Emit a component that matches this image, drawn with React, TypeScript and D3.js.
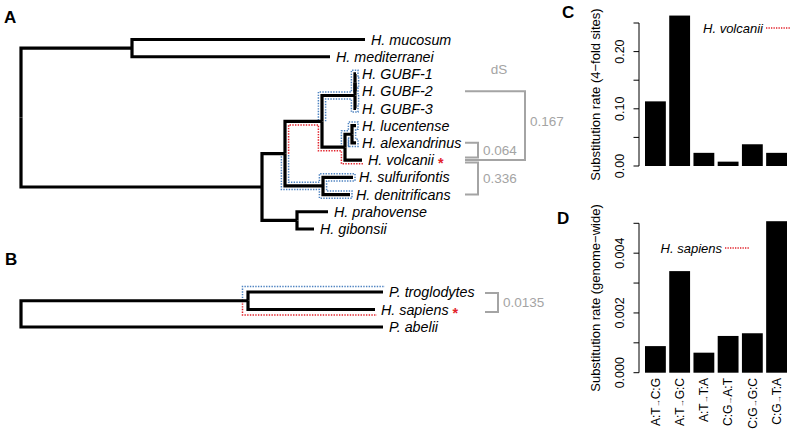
import React from "react";
import * as d3 from "d3";

// ---------- data ----------
// phylogeny A: [node, parent, branch length (relative units)]
const treeA: [string, string, number][] = [
  ["root", "", 0],
  ["M", "root", 111],
  ["H. mucosum", "M", 233],
  ["H. mediterranei", "M", 198],
  ["H", "root", 241],
  ["U", "H", 23],
  ["V", "U", 37],
  ["G", "V", 33],
  ["G2", "G", 0],
  ["H. GUBF-1", "G2", 1],
  ["H. GUBF-2", "G2", 1],
  ["H. GUBF-3", "G", 1],
  ["W", "V", 23],
  ["LA", "W", 7],
  ["H. lucentense", "LA", 4],
  ["H. alexandrinus", "LA", 4],
  ["H. volcanii", "W", 17],
  ["SD", "U", 38],
  ["H. sulfurifontis", "SD", 30],
  ["H. denitrificans", "SD", 27],
  ["PG", "H", 35],
  ["H. prahovense", "PG", 31],
  ["H. gibonsii", "PG", 17],
];

// phylogeny B
const treeB: [string, string, number][] = [
  ["root", "", 0],
  ["TS", "root", 227],
  ["P. troglodytes", "TS", 135],
  ["H. sapiens", "TS", 127],
  ["P. abelii", "root", 362],
];

// dS between pairs of tips
const dsA: [string, string, string][] = [
  ["H. alexandrinus", "H. volcanii", "0.064"],
  ["H. volcanii", "H. denitrificans", "0.336"],
  ["H. GUBF-2", "H. volcanii", "0.167"],
];
const dsB: [string, string, string][] = [["P. troglodytes", "H. sapiens", "0.0135"]];

const mutationTypes = ["A:T→C:G", "A:T→G:C", "A:T→T:A", "C:G→A:T", "C:G→G:C", "C:G→T:A"];
const volcaniiRates = [0.113, 0.263, 0.023, 0.0076, 0.038, 0.023];
const sapiensRates = [0.00089, 0.0034, 0.00067, 0.00123, 0.00132, 0.00507];

const ticksC = [0, 0.05, 0.1, 0.15, 0.2, 0.25];
const labelsC = [0, 0.1, 0.2];
const ticksD = [0, 0.001, 0.002, 0.003, 0.004, 0.005];
const labelsD = [0, 0.002, 0.004];

// ---------- helpers ----------
const FONT = "'Liberation Sans', Arial, Helvetica, sans-serif";
const RED = "#e2222b";
const BLUE = "#4d82c0";
const GRAY = "#a4a4a4";

type P = [number, number];
type TNode = d3.HierarchyNode<[string, string, number]> & { len: number; px: number; py: number };

function layoutTree(rows: [string, string, number][], xr: [number, number], yr: [number, number]) {
  const root = d3
    .stratify<[string, string, number]>()
    .id((r) => r[0])
    .parentId((r) => r[1])(rows) as TNode;
  root.eachBefore((n: any) => {
    n.len = n.parent ? n.parent.len + n.data[2] : 0;
  });
  const leaves = root.leaves() as TNode[];
  const x = d3.scaleLinear().domain([0, d3.max(root.descendants(), (n: any) => n.len) as number]).range(xr);
  const y = d3.scaleLinear().domain([0, leaves.length - 1]).range(yr);
  leaves.forEach((l, i) => (l.py = y(i)));
  root.eachAfter((n: any) => {
    if (n.children) n.py = d3.mean(n.children, (c: any) => c.py);
    n.px = x(n.len);
  });
  const byId = new Map<string, TNode>();
  root.descendants().forEach((n: any) => byId.set(n.id, n));
  return { root, byId };
}

// elbow segments along a chain of nodes
function elbowSegs(byId: Map<string, TNode>, chain: string[]): [P, P][] {
  const s: [P, P][] = [];
  for (let i = 1; i < chain.length; i++) {
    const p = byId.get(chain[i - 1])!;
    const c = byId.get(chain[i])!;
    s.push([[p.px, p.py], [p.px, c.py]]);
    s.push([[p.px, c.py], [c.px, c.py]]);
  }
  return s;
}
function cladeSegs(byId: Map<string, TNode>, id: string): [P, P][] {
  const s: [P, P][] = [];
  byId.get(id)!.descendants().forEach((n: any) => {
    if (n.id !== id) s.push(...elbowSegs(byId, [n.parent.id, n.id]));
  });
  return s;
}

// offset outline walking around an orthogonal skeleton
function contour(segs0: [P, P][], start: P, d: number, mode: "full" | "right" | "left", ext: number): P[] {
  const key = (p: P) => `${p[0].toFixed(2)},${p[1].toFixed(2)}`;
  const verts = new Map<string, P>();
  segs0.forEach(([a, b]) => {
    verts.set(key(a), a);
    verts.set(key(b), b);
  });
  const edges = new Map<string, P>();
  const adj = new Map<string, P[]>();
  const addEdge = (a: P, b: P) => {
    const k1 = key(a), k2 = key(b);
    if (k1 === k2) return;
    const ek = k1 < k2 ? k1 + "|" + k2 : k2 + "|" + k1;
    if (edges.has(ek)) return;
    edges.set(ek, a);
    if (!adj.has(k1)) adj.set(k1, []);
    if (!adj.has(k2)) adj.set(k2, []);
    adj.get(k1)!.push(b);
    adj.get(k2)!.push(a);
  };
  segs0.forEach(([a, b]) => {
    const inner: P[] = [];
    verts.forEach((v) => {
      const onX = Math.abs(a[0] - b[0]) < 1e-6 && Math.abs(v[0] - a[0]) < 1e-6 && v[1] > Math.min(a[1], b[1]) + 1e-6 && v[1] < Math.max(a[1], b[1]) - 1e-6;
      const onY = Math.abs(a[1] - b[1]) < 1e-6 && Math.abs(v[1] - a[1]) < 1e-6 && v[0] > Math.min(a[0], b[0]) + 1e-6 && v[0] < Math.max(a[0], b[0]) - 1e-6;
      if (onX || onY) inner.push(v);
    });
    const pts = [a, ...inner, b].sort((p, q) => Math.hypot(p[0] - a[0], p[1] - a[1]) - Math.hypot(q[0] - a[0], q[1] - a[1]));
    for (let i = 1; i < pts.length; i++) addEdge(pts[i - 1], pts[i]);
  });
  const dir = (a: P, b: P): P => [Math.sign(b[0] - a[0]), Math.sign(b[1] - a[1])];
  const s = mode === "left" ? -1 : 1;
  const rn = (u: P): P => [-u[1] * s, u[0] * s];
  const eq = (u: P, v: P) => u[0] === v[0] && u[1] === v[1];
  const out: P[] = [];
  const first = adj.get(key(start))![0];
  const u0 = dir(start, first);
  out.push([start[0] + d * rn(u0)[0], start[1] + d * rn(u0)[1]]);
  let prev = start;
  let cur = first;
  for (let guard = 0; guard < 500; guard++) {
    const u1 = dir(prev, cur);
    if (key(cur) === key(start)) {
      out.push([cur[0] + d * rn(u1)[0], cur[1] + d * rn(u1)[1]]);
      break;
    }
    const nb = adj.get(key(cur))!;
    const prefs: P[] = [rn(u1), u1, [-rn(u1)[0], -rn(u1)[1]], [-u1[0], -u1[1]]];
    let next: P = prev;
    let u2: P = [-u1[0], -u1[1]];
    for (const pr of prefs) {
      const f = nb.find((q) => eq(dir(cur, q), pr));
      if (f) {
        next = f;
        u2 = pr;
        break;
      }
    }
    const r1 = rn(u1), r2 = rn(u2);
    if (eq(u2, [-u1[0], -u1[1]])) {
      out.push([cur[0] + ext * u1[0] + d * r1[0], cur[1] + ext * u1[1] + d * r1[1]]);
      if (mode !== "full") break;
      out.push([cur[0] + ext * u1[0] + d * r2[0], cur[1] + ext * u1[1] + d * r2[1]]);
    } else if (!eq(u2, u1)) {
      out.push([cur[0] + d * (r1[0] + r2[0]), cur[1] + d * (r1[1] + r2[1])]);
    }
    prev = cur;
    cur = next;
  }
  return out;
}

const line = d3.line<P>();

function Tree({ rows, xr, yr, outlines, star, ds, dsLayout, d }: any) {
  const { root, byId } = layoutTree(rows, xr, yr);
  const nodes = root.descendants() as TNode[];
  const leaves = root.leaves() as TNode[];
  const paths = outlines.map((o: any) => {
    const segs = [...elbowSegs(byId, o.chain), ...(o.clade ? cladeSegs(byId, o.chain[o.chain.length - 1]) : [])];
    const s = byId.get(o.chain[0])!;
    return { color: o.color, pts: contour(segs, [s.px, s.py], d, o.mode, 2) };
  });
  return (
    <g>
      {paths.map((p: any, i: number) => (
        <path key={i} d={line(p.pts)!} fill="none" stroke={p.color} strokeWidth={1.5} strokeDasharray="1.4 1.3" />
      ))}
      {nodes
        .filter((n) => n.parent)
        .map((n) => {
          const p = n.parent as TNode;
          return (
            <path key={n.id} d={`M${p.px},${p.py}V${n.py}H${n.px}`} fill="none" stroke="#000" strokeWidth={3.2} strokeLinejoin="miter" strokeLinecap="butt" />
          );
        })}
      {leaves.map((n) => (
        <text key={n.id} x={n.px + 6} y={n.py} dy="0.36em" fontSize={14.3} fontStyle="italic" fontFamily={FONT}>
          {n.id}
          {n.id === star && (
            <tspan fill={RED} fontStyle="normal" fontWeight="bold" dx={4} dy="0.2em">
              *
            </tspan>
          )}
        </text>
      ))}
      {ds.map((b: [string, string, string], i: number) => {
        const L = dsLayout[i];
        const ya = byId.get(b[0])!.py + L.o[0];
        const yb = byId.get(b[1])!.py + L.o[1];
        return (
          <g key={i}>
            <path d={`M${L.x0},${ya}H${L.x1}V${yb}H${L.x0}`} fill="none" stroke={GRAY} strokeWidth={2} />
            <text x={L.x1 + 5} y={(ya + yb) / 2 + L.dy} dy="0.35em" fill={GRAY} fontSize={13.5} fontFamily={FONT}>
              {b[2]}
            </text>
          </g>
        );
      })}
    </g>
  );
}

function Bars({ values, yDomain, yRange, ticks, labels, fmt, title, legend, legendEnd, legendY, xLabels }: any) {
  const x = d3.scaleBand<string>().domain(mutationTypes).range([645, 787]).paddingInner(0.14).paddingOuter(0);
  const y = d3.scaleLinear().domain(yDomain).range(yRange);
  const y0 = y(0);
  const mid = (yRange[0] + yRange[1]) / 2;
  return (
    <g fontFamily={FONT}>
      {values.map((v: number, i: number) => (
        <rect key={i} x={x(mutationTypes[i])} y={y(v)} width={x.bandwidth()} height={y0 - y(v)} fill="#000" />
      ))}
      <line x1={639} x2={639} y1={y(ticks[0])} y2={y(ticks[ticks.length - 1])} stroke="#000" strokeWidth={1} />
      {ticks.map((t: number) => (
        <line key={t} x1={633.5} x2={639} y1={y(t)} y2={y(t)} stroke="#000" strokeWidth={1} />
      ))}
      {labels.map((t: number) => (
        <text key={t} transform={`translate(623.5,${y(t)}) rotate(-90)`} textAnchor="middle" fontSize={12.5}>
          {d3.format(fmt)(t)}
        </text>
      ))}
      <text transform={`translate(600,${mid}) rotate(-90)`} textAnchor="middle" fontSize={13}>
        {title}
      </text>
      <text x={legendEnd} y={legendY} dy="0.35em" textAnchor="end" fontSize={13} fontStyle="italic">
        {legend}
      </text>
      <line x1={legendEnd + 3} x2={legendEnd + 28} y1={legendY} y2={legendY} stroke={RED} strokeWidth={1.4} strokeDasharray="1.3 1.2" />
      {xLabels &&
        mutationTypes.map((m) => {
          const [a, b] = m.split("→");
          return (
            <text key={m} transform={`translate(${(x(m) as number) + x.bandwidth() / 2 + 4.3},378) rotate(-90)`} textAnchor="end" fontSize={12}>
              {a}
              <tspan fontSize={8}>→</tspan>
              {b}
            </text>
          );
        })}
    </g>
  );
}

export default function App() {
  return (
    <svg width={794} height={439} style={{ position: "absolute", left: 0, top: 0, background: "#fff" }}>
      <g fontFamily={FONT} fontWeight="bold" fontSize={17}>
        <text x={4} y={23}>A</text>
        <text x={5} y={265}>B</text>
        <text x={562} y={18}>C</text>
        <text x={557} y={224}>D</text>
      </g>
      <Tree
        rows={treeA}
        xr={[21, 365]}
        yr={[39.5, 229]}
        d={3.6}
        star="H. volcanii"
        ds={dsA}
        dsLayout={[
          { x0: 465, x1: 478, o: [0, -2.5], dy: 0 },
          { x0: 465, x1: 478, o: [2.5, 0], dy: 0 },
          { x0: 465, x1: 525, o: [0, 0], dy: -4 },
        ]}
        outlines={[
          { chain: ["U", "V", "W", "H. volcanii"], mode: "right", color: RED },
          { chain: ["V", "G"], clade: true, mode: "full", color: BLUE },
          { chain: ["W", "LA"], clade: true, mode: "full", color: BLUE },
          { chain: ["U", "SD"], clade: true, mode: "full", color: BLUE },
        ]}
      />
      <text x={499} y={74} textAnchor="middle" fill={GRAY} fontSize={13.5} fontFamily={FONT}>
        dS
      </text>
      <Tree
        rows={treeB}
        xr={[21, 383]}
        yr={[292, 327]}
        d={5.5}
        star="H. sapiens"
        ds={dsB}
        dsLayout={[{ x0: 485, x1: 498, o: [1, 2.5], dy: 0 }]}
        outlines={[
          { chain: ["TS", "P. troglodytes"], mode: "left", color: BLUE },
          { chain: ["TS", "H. sapiens"], mode: "right", color: RED },
        ]}
      />
      <Bars
        values={volcaniiRates}
        yDomain={[0, 0.25]}
        yRange={[166, 23]}
        ticks={ticksC}
        labels={labelsC}
        fmt=".2f"
        title="Substitution rate (4−fold sites)"
        legend="H. volcanii"
        legendEnd={763}
        legendY={28}
      />
      <Bars
        values={sapiensRates}
        yDomain={[0, 0.005]}
        yRange={[372.7, 223.3]}
        ticks={ticksD}
        labels={labelsD}
        fmt=".3f"
        title="Substitution rate (genome−wide)"
        legend="H. sapiens"
        legendEnd={722}
        legendY={248}
        xLabels
      />
    </svg>
  );
}
